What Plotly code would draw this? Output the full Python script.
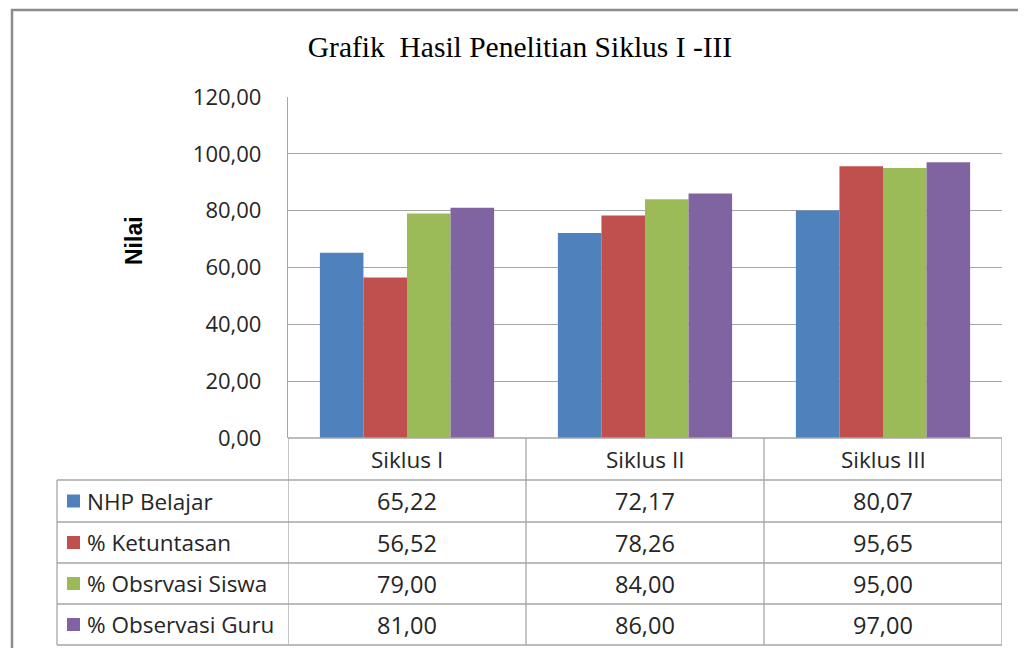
import plotly.graph_objects as go

W, H = 1026, 648
OX, OY = 8, 8  # page body margin, so reference pixels are shifted by this

categories = ["Siklus I", "Siklus II", "Siklus III"]
series_names = ["NHP Belajar", "% Ketuntasan", "% Obsrvasi Siswa", "% Observasi Guru"]
nhp_belajar = [65.22, 72.17, 80.07]
ketuntasan = [56.52, 78.26, 95.65]
obs_siswa = [79.00, 84.00, 95.00]
obs_guru = [81.00, 86.00, 97.00]
series_values = [nhp_belajar, ketuntasan, obs_siswa, obs_guru]
colors = ["#4F81BD", "#C0504D", "#9BBB59", "#8064A2"]
y_ticks = [0, 20, 40, 60, 80, 100, 120]


def px_x(x):
    return (x - OX) / W


def px_y(y):
    return 1 - (y - OY) / H


GRID = "#A6A6A6"
TXT = "#262626"
BODY_FONT = "Open Sans"
FS = 22.5

fig = go.Figure()
for name, vals, col in zip(series_names, series_values, colors):
    fig.add_trace(go.Bar(
        x=list(range(len(categories))), y=vals, name=name,
        marker=dict(color=col, line=dict(width=0)),
        showlegend=False,
    ))

shapes = []
annotations = []

# outer chart frame (runs off the right and bottom edges)
shapes.append(dict(type="rect", xref="paper", yref="paper",
                   x0=px_x(12), x1=px_x(1060), y0=px_y(10), y1=px_y(690),
                   line=dict(color="#8C8C8C", width=2.5)))

# data table geometry
plot_top, plot_bottom = 97, 438
row_edges = [438, 480, 522, 563, 604, 645]
label_left = 57

# horizontal table lines
shapes.append(dict(type="line", xref="x", yref="paper", x0=-0.5, x1=2.5,
                   y0=px_y(row_edges[0]), y1=px_y(row_edges[0]),
                   line=dict(color=GRID, width=1.3)))
for ry in row_edges[1:]:
    shapes.append(dict(type="line", xref="paper", yref="paper",
                       x0=px_x(label_left), x1=px_x(1002), y0=px_y(ry), y1=px_y(ry),
                       line=dict(color=GRID, width=1.3)))
# vertical table lines
for cx in [-0.5, 0.5, 1.5, 2.5]:
    shapes.append(dict(type="line", xref="x", yref="paper", x0=cx, x1=cx,
                       y0=px_y(row_edges[0]), y1=px_y(row_edges[-1]),
                       line=dict(color=GRID, width=1.3)))
shapes.append(dict(type="line", xref="paper", yref="paper",
                   x0=px_x(label_left), x1=px_x(label_left),
                   y0=px_y(row_edges[1]), y1=px_y(row_edges[-1]),
                   line=dict(color=GRID, width=1.3)))

cell_font = dict(family=BODY_FONT, size=FS, color=TXT)

# header row
hy = (row_edges[0] + row_edges[1]) / 2
for i, cat in enumerate(categories):
    annotations.append(dict(x=i, y=px_y(hy), xref="x", yref="paper", text=cat,
                            xanchor="center", yanchor="middle",
                            showarrow=False, font=cell_font))

# data rows
for r, (name, vals, col) in enumerate(zip(series_names, series_values, colors)):
    cy = (row_edges[r + 1] + row_edges[r + 2]) / 2
    shapes.append(dict(type="rect", xref="paper", yref="paper",
                       x0=px_x(67), x1=px_x(80), y0=px_y(cy - 6.5), y1=px_y(cy + 6.5),
                       fillcolor=col, line=dict(width=0)))
    annotations.append(dict(x=px_x(85), y=px_y(cy), xref="paper", yref="paper", text=name,
                            xanchor="left", yanchor="middle", showarrow=False,
                            font=cell_font))
    for i, v in enumerate(vals):
        annotations.append(dict(x=i, y=px_y(cy), xref="x", yref="paper",
                                text=f"{v:.2f}".replace(".", ","),
                                xanchor="center", yanchor="middle", showarrow=False,
                                font=dict(family=BODY_FONT, size=23.5, color=TXT)))

# y axis title
annotations.append(dict(x=px_x(134), y=px_y(241), xref="paper", yref="paper", text="<b>Nilai</b>",
                        xanchor="center", yanchor="middle", textangle=-90, showarrow=False,
                        font=dict(family="Liberation Sans", size=23, color="#000000")))

fig.update_layout(
    width=W, height=H,
    margin=dict(l=0, r=0, t=0, b=0, autoexpand=False),
    paper_bgcolor="white", plot_bgcolor="white",
    separators=",.",
    barmode="group", bargap=0.268, bargroupgap=0,
    title=dict(text="Grafik\u00a0 Hasil Penelitian Siklus I -III",
               x=px_x(520), y=px_y(47), xanchor="center", yanchor="middle",
               font=dict(family="Liberation Serif", size=29.5, color="#000000")),
    shapes=shapes, annotations=annotations,
    xaxis=dict(domain=[px_x(288), px_x(1002)], range=[-0.5, 2.5], automargin=False,
               showticklabels=False, showgrid=False, zeroline=False,
               showline=False, ticks=""),
    yaxis=dict(domain=[px_y(plot_bottom), px_y(plot_top)], range=[0, 120], automargin=False,
               tickvals=y_ticks, tickformat=".2f",
               showgrid=True, gridcolor=GRID, gridwidth=1.3,
               zeroline=False, showline=True, linecolor=GRID, linewidth=1.3,
               ticks="", ticklabelstandoff=21,
               tickfont=dict(family=BODY_FONT, size=22, color=TXT)),
)

fig.write_html("out.html")
